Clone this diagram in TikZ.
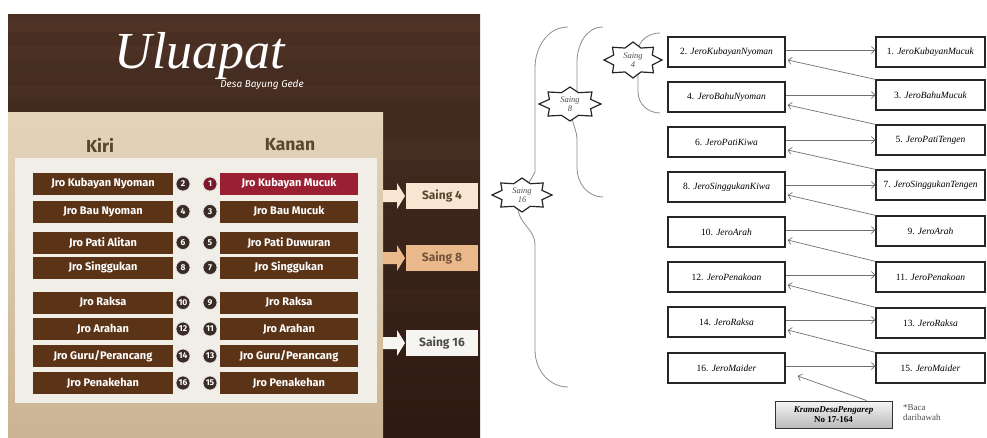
\documentclass[tikz,border=0pt]{standalone}
\usepackage{fontspec}
\setmainfont{Liberation Serif}
\newfontfamily\uifont{Fira Sans}
\usetikzlibrary{arrows.meta}
\definecolor{wooddark}{HTML}{2C1A12}
\definecolor{woodmid}{HTML}{4A3023}
\definecolor{woodlight}{HTML}{6A4A36}
\definecolor{beigetop}{HTML}{E3D4BA}
\definecolor{beigebot}{HTML}{CBB493}
\definecolor{innerpanel}{HTML}{F1EDE7}
\definecolor{boxbrown}{HTML}{5B3418}
\definecolor{boxred}{HTML}{9A1F32}
\definecolor{hdrcol}{HTML}{5A4530}
\definecolor{circdark}{HTML}{3A2B24}
\definecolor{sfourfill}{HTML}{F7E7D2}
\definecolor{seightfill}{HTML}{E9B98B}
\definecolor{ssixfill}{HTML}{F7F5F2}
\definecolor{linkgray}{HTML}{707070}
\definecolor{bracegray}{HTML}{8C8C8C}
\tikzset{
  rowbox/.style={fill=boxbrown, text=white, minimum height=22, inner sep=0,
    font=\uifont\bfseries\fontsize{11}{13}\selectfont},
  lbox/.style={rowbox, minimum width=140},
  rbox/.style={rowbox, minimum width=138},
  numc/.style={circle, fill=circdark, draw=white!80!gray, line width=0.7pt, text=white,
    minimum size=14, inner sep=0, font=\uifont\bfseries\fontsize{8.5}{9}\selectfont},
  saingbox/.style={minimum width=72, minimum height=26, inner sep=0,
    font=\uifont\bfseries\fontsize{12}{14}\selectfont},
  hdr/.style={font=\uifont\bfseries\fontsize{17.5}{20}\selectfont, text=hdrcol},
  jbox/.style={draw=black!85, line width=1.3pt, minimum height=30, inner sep=0,
    fill=white, font=\fontsize{9.5}{11}\selectfont},
  jl/.style={jbox, minimum width=117},
  jr/.style={jbox, minimum width=109},
  link/.style={draw=linkgray, line width=0.7pt, -{Straight Barb[length=3.5pt,width=7pt]}},
  bracest/.style={draw=bracegray, line width=0.8pt},
  starst/.style={fill=white, draw=black!85, line width=1.2pt},
  startext/.style={font=\itshape\fontsize{8.5}{9.5}\selectfont, text=black!70, align=center, inner sep=0},
}
\newcommand{\starpath}{(0:1) -- (22.5:0.72) -- (45:1) -- (67.5:0.72) -- (90:1) -- (112.5:0.72)
  -- (135:1) -- (157.5:0.72) -- (180:1) -- (202.5:0.72) -- (225:1) -- (247.5:0.72)
  -- (270:1) -- (292.5:0.72) -- (315:1) -- (337.5:0.72) -- cycle}
\begin{document}
\begin{tikzpicture}[x=1pt,y=-1pt]
\useasboundingbox (0,0) rectangle (987,437);
% ---------------- left infographic ----------------
\fill[top color=woodmid, bottom color=wooddark] (8,14) rectangle (480,437);
\fill[woodlight, opacity=0.18] (8,20) rectangle (480,32);
\fill[woodlight, opacity=0.12] (8,46) rectangle (480,58);
\fill[woodlight, opacity=0.1] (8,86) rectangle (480,98);
\fill[woodlight, opacity=0.12] (383,140) rectangle (480,160);
\fill[woodlight, opacity=0.08] (383,290) rectangle (480,312);
\fill[top color=beigetop, bottom color=beigebot] (8,112) rectangle (383,437);
\fill[innerpanel] (15,158) rectangle (377,403);
\node[font=\itshape\fontsize{52}{56}\selectfont, text=white, inner sep=0] (title) at (200,56) {Uluapat};
\node[font=\uifont\itshape\fontsize{10}{12}\selectfont, text=white, inner sep=0] (subtitle) at (262,85) {Desa Bayung Gede};
\node[hdr] (kiri) at (100,145) {Kiri};
\node[hdr] (kanan) at (290,145) {Kanan};
% row 1
\node[lbox] (A1) at (103,184) {Jro Kubayan Nyoman};
\node[rbox, fill=boxred] (B1) at (289,184) {Jro Kubayan Mucuk};
\node[numc] (nA1) at (183,184) {2};
\node[numc, fill=boxred!80!black] (nB1) at (210,184) {1};
\foreach \y/\lt/\ln/\rt/\rn [count=\i from 2] in {
  211.5/{Jro Bau Nyoman}/4/{Jro Bau Mucuk}/3,
  242.5/{Jro Pati Alitan}/6/{Jro Pati Duwuran}/5,
  267.5/{Jro Singgukan}/8/{Jro Singgukan}/7,
  302.5/{Jro Raksa}/10/{Jro Raksa}/9,
  329/{Jro Arahan}/12/{Jro Arahan}/11,
  356/{Jro Guru/Perancang}/14/{Jro Guru/Perancang}/13,
  383/{Jro Penakehan}/16/{Jro Penakehan}/15}{
  \node[lbox] (A\i) at (103,\y) {\lt};
  \node[rbox] (B\i) at (289,\y) {\rt};
  \node[numc] (nA\i) at (183,\y) {\ln};
  \node[numc] (nB\i) at (210,\y) {\rn};
}
% saing arrows and boxes
\foreach \yy/\col/\tcol/\lab/\nm in {196/sfourfill/hdrcol/Saing 4/sA, 258/seightfill/boxbrown!85/Saing 8/sB, 343/ssixfill/black!70/Saing 16/sC}{
  \fill[\col] (383,{\yy-6}) -- (397,{\yy-6}) -- (397,{\yy-13}) -- (405,\yy) -- (397,{\yy+13}) -- (397,{\yy+6}) -- (383,{\yy+6}) -- cycle;
  \node[saingbox, fill=\col, text=\tcol] (\nm) at (442,\yy) {\lab};
}
% ---------------- right diagram ----------------
\foreach \y/\t [count=\i] in {52/2. \textit{JeroKubayanNyoman}, 97/4. \textit{JeroBahuNyoman},
  142/6. \textit{JeroPatiKiwa}, 187/8. \textit{JeroSinggukanKiwa}, 232/10. \textit{JeroArah},
  277/12. \textit{JeroPenakoan}, 322/14. \textit{JeroRaksa}, 368/16. \textit{JeroMaider}}{
  \node[jl] (L\i) at (726.5,\y) {\t};
}
\foreach \y/\t [count=\i] in {52/1. \textit{JeroKubayanMucuk}, 95/3. \textit{JeroBahuMucuk},
  140/5. \textit{JeroPatiTengen}, 185/7. \textit{JeroSinggukanTengen}, 231/9. \textit{JeroArah},
  277/11. \textit{JeroPenakoan}, 323/13. \textit{JeroRaksa}, 368/15. \textit{JeroMaider}}{
  \node[jr] (R\i) at (930.5,\y) {\t};
}
\foreach \i in {1,...,8}{
  \draw[link] ([yshift=2pt]L\i.east) -- ([yshift=2pt]L\i.east -| R\i.west);
}
\foreach \i [evaluate=\i as \j using int(\i+1)] in {1,...,7}{
  \draw[link] (R\j.north west) -- ([xshift=2pt,yshift=-8pt]L\i.east);
}
\node[draw=black!80, line width=1pt, top color=gray!8, bottom color=gray!55,
  minimum width=117, minimum height=27, inner sep=0, align=center,
  font=\bfseries\fontsize{9}{10.5}\selectfont] (krama) at (833.5,414.5)
  {\textit{KramaDesaPengarep}\\No 17-164};
\draw[link] ([xshift=33pt]krama.north) -- ([xshift=12pt,yshift=-8pt]L8.east);
\node[anchor=north west, align=left, font=\fontsize{9}{10.5}\selectfont, text=black!70, inner sep=0] (baca) at (903,404) {*Baca\\daribawah};
% braces
\draw[bracest] (568,27) to[out=180,in=90] (535,68) -- (535,172) -- (522,195) -- (518,210) to[out=-80,in=90] (535,245) -- (535,350) to[out=-90,in=180] (568,387);
\draw[bracest] (603,27) to[out=180,in=90] (577,62) -- (577,92) -- (570,104) -- (572,118) to[out=-80,in=90] (577,140) -- (577,168) to[out=-90,in=180] (603,197);
\draw[bracest] (660,33) to[out=180,in=90] (638,52) -- (633,60) -- (638,75) -- (638,92) to[out=-90,in=180] (660,113);
% stars
\filldraw[starst, shift={(522,195)}, xscale=30, yscale=17] \starpath;
\filldraw[starst, shift={(570,104)}, xscale=31, yscale=17] \starpath;
\filldraw[starst, shift={(633,60)}, xscale=29, yscale=18] \starpath;
\node[startext] (st16) at (522,195) {Saing\\16};
\node[startext] (st8) at (570,104) {Saing\\8};
\node[startext] (st4) at (633,60) {Saing\\4};
\end{tikzpicture}
\end{document}
